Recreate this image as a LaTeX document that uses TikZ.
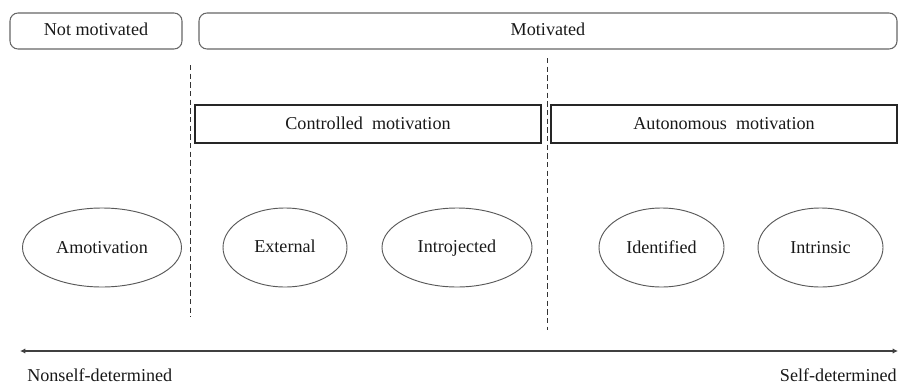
\documentclass[tikz,border=0pt]{standalone}
\usepackage{fontspec}
\setmainfont{Liberation Serif}
\newfontfamily\tnrfont{Liberation Serif}
\usetikzlibrary{arrows.meta}
\begin{document}
\begin{tikzpicture}[x=0.75pt,y=-0.75pt,
  every node/.style={font=\tnrfont\fontsize{13.6}{16}\selectfont, text=black!90},
  lbl/.style={anchor=base, inner sep=0pt},
  topbox/.style={draw=black!60, line width=0.8pt, rounded corners=6pt},
  groupbox/.style={draw=black!85, line width=0.8pt},
  oval/.style={draw=black!65, line width=0.7pt},
  divider/.style={draw=black!80, dash pattern=on 4pt off 2.5pt, line width=0.7pt},
  axis/.style={draw=black!75, line width=1.3pt, {Latex[length=4pt,width=4pt]}-{Latex[length=4pt,width=4pt]}}]
\useasboundingbox (0,0) rectangle (902,389);
% top boxes
\draw[topbox] (10,13) rectangle (182,49);
\node[lbl] (notmot) at (96,36) {Not motivated};
\draw[topbox] (199,13) rectangle (897,49);
\node[lbl] (mot) at (548,36) {Motivated};
% group boxes
\draw[groupbox] (195,105) rectangle (541,143);
\node[lbl] (ctrl) at (368,129.5) {Controlled\ \ motivation};
\draw[groupbox] (551,105) rectangle (897,143);
\node[lbl] (auto) at (724,129.5) {Autonomous\ \ motivation};
% ellipses
\draw[oval] (102,247.5) ellipse (79.5 and 39.5);
\node[lbl] (amot) at (102,253) {Amotivation};
\draw[oval] (285,247.5) ellipse (62 and 39.5);
\node[lbl] (ext) at (285,252) {External};
\draw[oval] (457,247.5) ellipse (75 and 39.5);
\node[lbl] (intro) at (457,252) {Introjected};
\draw[oval] (661.5,247.5) ellipse (62.5 and 39.5);
\node[lbl] (ident) at (661.5,253) {Identified};
\draw[oval] (820.5,247.5) ellipse (62.5 and 39.5);
\node[lbl] (intr) at (820.5,253) {Intrinsic};
% dividers
\coordinate (d1t) at (190,65);
\coordinate (d1b) at (190,317);
\coordinate (d2t) at (547,58);
\coordinate (d2b) at (547,330);
\draw[divider] (d1t) -- (d1b);
\draw[divider] (d2t) -- (d2b);
% axis
\coordinate (al) at (20,351);
\coordinate (ar) at (898,351);
\draw[axis] (al) -- (ar);
\node[anchor=base west, inner sep=0pt] (nsd) at (27,381) {Nonself-determined};
\node[anchor=base east, inner sep=0pt] (sd) at (897,381) {Self-determined};
\end{tikzpicture}
\end{document}
